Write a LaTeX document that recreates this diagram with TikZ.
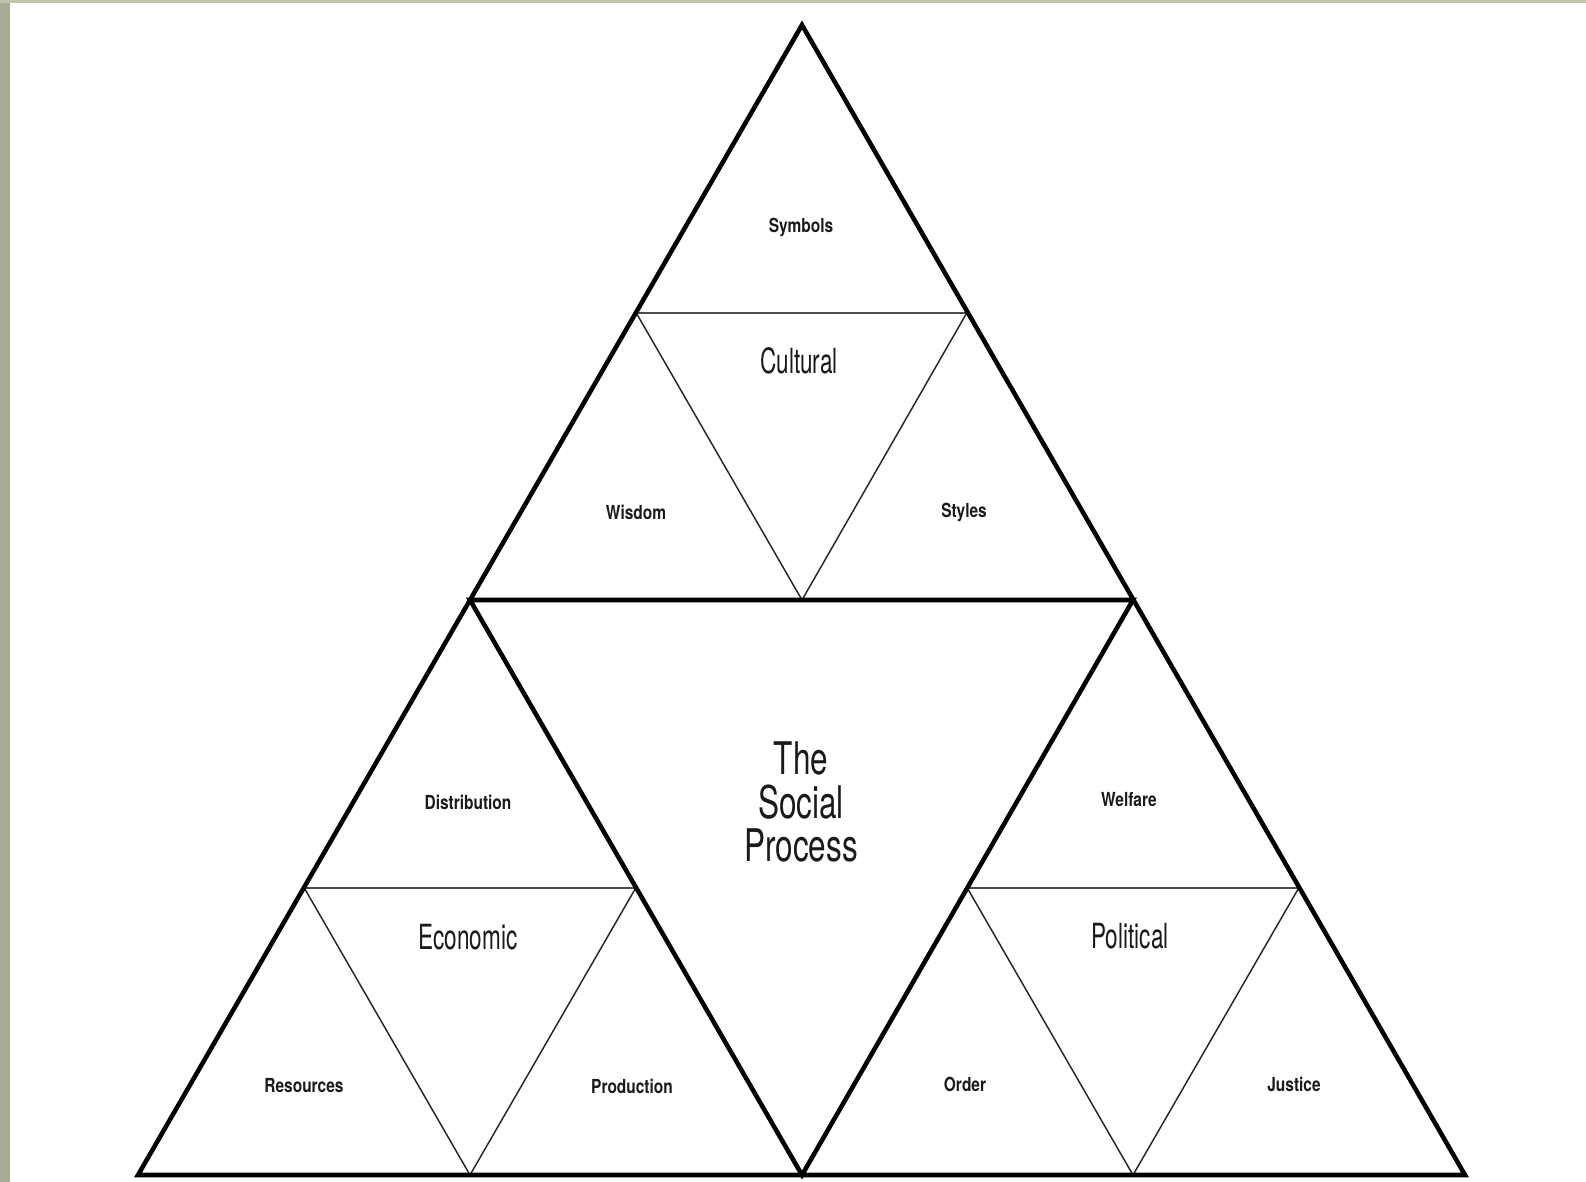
\documentclass[tikz,border=0pt]{standalone}
\usepackage{fontspec}
\setmainfont{TeX Gyre Heros}
\newfontfamily\smallf[FakeStretch=0.8]{TeX Gyre Heros}
\newfontfamily\bigf[FakeStretch=0.65]{TeX Gyre Heros}
\newfontfamily\ctrf[FakeStretch=0.7]{TeX Gyre Heros}
\definecolor{stripL}{HTML}{A9AB97}
\definecolor{stripT}{HTML}{C2C4AC}
\definecolor{ink}{HTML}{1A1A1A}
\tikzset{
  thickline/.style={line width=3.4pt, draw=black, line join=miter},
  midline/.style={line width=1.5pt, draw=black!70},
  thinline/.style={line width=1.1pt, draw=black!85},
  smalllbl/.style={text=ink, font=\smallf\bfseries\fontsize{14.5}{18}\selectfont, inner sep=0pt},
  biglbl/.style={text=ink, font=\bigf\fontsize{26}{30}\selectfont, inner sep=0pt},
  ctrlbl/.style={text=ink, font=\ctrf\fontsize{33.75}{32.6}\selectfont, inner sep=0pt, align=center}
}
\begin{document}
\begin{tikzpicture}[x=0.75pt,y=-0.75pt]
\useasboundingbox (0,0) rectangle (1586,1182);
\fill[white] (0,0) rectangle (1586,1182);
\fill[stripL] (0,0) rectangle (10,1182);
\fill[stripT] (0,0) rectangle (1586,3);

\coordinate (A) at (802,25);
\coordinate (B) at (138,1175);
\coordinate (C) at (1465,1175);
\coordinate (L) at (470,600);
\coordinate (R) at (1133,600);
\coordinate (M) at (802,1175);
\coordinate (T1) at (636,312.5);
\coordinate (T2) at (967,312.5);
\coordinate (CB) at (802,600);
\coordinate (E1) at (304,887.5);
\coordinate (E2) at (636,887.5);
\coordinate (EB) at (470,1175);
\coordinate (P1) at (967,887.5);
\coordinate (P2) at (1299,887.5);
\coordinate (PB) at (1133,1175);

\draw[thinline] (T1) -- (CB) -- (T2);
\draw[thinline] (E1) -- (EB) -- (E2);
\draw[thinline] (P1) -- (PB) -- (P2);
\draw[midline] (T1) -- (T2);
\draw[midline] (E1) -- (E2);
\draw[midline] (P1) -- (P2);
\draw[thickline] (L) -- (R) -- (M) -- cycle;
\draw[thickline] (A) -- (B) -- (C) -- cycle;

\node[smalllbl] (symbols) at (801,227) {Symbols};
\node[biglbl] (cultural) at (799,361) {Cultural};
\node[smalllbl] (wisdom) at (636,512) {Wisdom};
\node[smalllbl] (styles) at (964,512) {Styles};
\node[smalllbl] (distribution) at (468,802) {Distribution};
\node[biglbl] (economic) at (468,937) {Economic};
\node[smalllbl] (welfare) at (1129,800) {Welfare};
\node[biglbl] (political) at (1130,936) {Political};
\node[smalllbl] (resources) at (304,1086) {Resources};
\node[smalllbl] (production) at (632,1086) {Production};
\node[smalllbl] (order) at (965,1084) {Order};
\node[smalllbl] (justice) at (1294,1084) {Justice};
\node[ctrlbl] (social) at (801,802) {The\\Social\\Process};
\end{tikzpicture}
\end{document}
